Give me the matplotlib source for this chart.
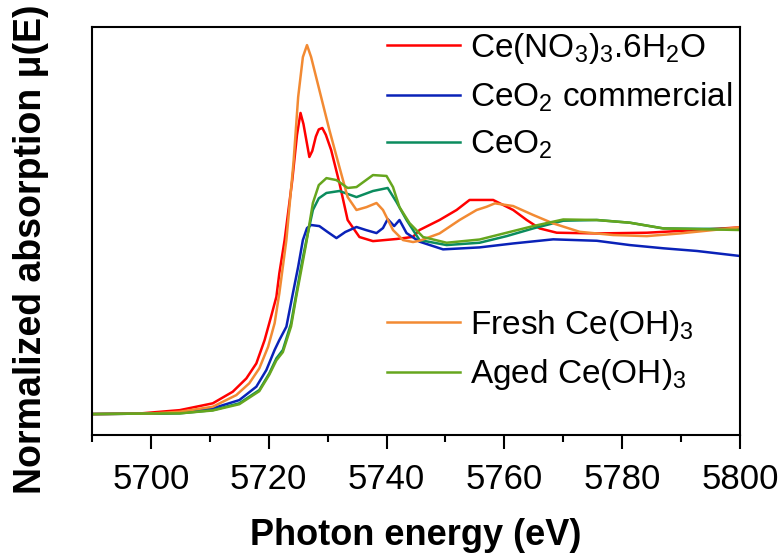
import matplotlib
matplotlib.use("Agg")
import matplotlib.pyplot as plt

plt.rcParams['font.family'] = ['Liberation Sans', 'DejaVu Sans']
plt.rcParams['mathtext.fontset'] = 'custom'
plt.rcParams['mathtext.rm'] = 'Liberation Sans'
plt.rcParams['mathtext.it'] = 'Liberation Sans:italic'
plt.rcParams['mathtext.bf'] = 'Liberation Sans:bold'

# Ce L3-edge XANES, normalized absorption
e_nitrate = [5690, 5698, 5704.9, 5710.5, 5713.9, 5716.2, 5717.9, 5719.3, 5720.4, 5721.3,
             5721.8, 5722.7, 5724.0, 5724.8, 5725.4, 5725.9, 5726.9, 5727.4, 5728.0, 5728.5,
             5729.1, 5729.7, 5730.6, 5732.0, 5733.4, 5735.4, 5737.7, 5741.7, 5743.4, 5744.5,
             5745.6, 5749.0, 5751.9, 5754.1, 5758.1, 5761.5, 5763.8, 5766.0, 5768.9, 5775.7,
             5784.2, 5792.7, 5800]
mu_nitrate = [0.000, 0.003, 0.022, 0.060, 0.125, 0.199, 0.283, 0.413, 0.544, 0.655,
              0.786, 0.972, 1.307, 1.559, 1.682, 1.620, 1.436, 1.470, 1.550, 1.590,
              1.598, 1.560, 1.475, 1.291, 1.084, 0.989, 0.966, 0.978, 0.985, 0.990,
              1.028, 1.084, 1.140, 1.196, 1.196, 1.140, 1.084, 1.037, 1.013, 1.009,
              1.013, 1.028, 1.043]

e_ceo2_com = [5690, 5700, 5704.9, 5710.5, 5715.0, 5717.9, 5719.6, 5721.0, 5721.8, 5723.0,
              5724.1, 5725.0, 5725.8, 5726.5, 5727.2, 5728.6, 5730, 5731.5, 5733, 5734.9,
              5736.5, 5738.3, 5739.4, 5740.2, 5741.3, 5742.2, 5743.4, 5745.6, 5749.6, 5755.8,
              5761.5, 5768.3, 5775.7, 5781.3, 5787.0, 5792.7, 5800]
mu_ceo2_com = [0, 0.003, 0.007, 0.032, 0.078, 0.153, 0.246, 0.358, 0.413, 0.488,
               0.674, 0.823, 0.972, 1.039, 1.056, 1.050, 1.017, 0.983, 1.017, 1.045,
               1.028, 1.011, 1.039, 1.089, 1.050, 1.084, 1.011, 0.963, 0.920, 0.931,
               0.953, 0.976, 0.968, 0.944, 0.926, 0.911, 0.883]

e_ceo2 = [5690, 5700, 5704.9, 5710.5, 5715.0, 5718.4, 5720.1, 5721.3, 5722.4, 5723.8,
          5724.7, 5725.5, 5726.4, 5727.5, 5728.5, 5729.8, 5732, 5734.9, 5737.7, 5740.2,
          5741.7, 5743.4, 5745.6, 5750.2, 5755.8, 5760.4, 5764.9, 5770.0, 5775.7, 5781.3,
          5787, 5792.7, 5800]
mu_ceo2 = [0, 0.003, 0.004, 0.022, 0.060, 0.134, 0.227, 0.311, 0.358, 0.507,
           0.674, 0.823, 0.972, 1.140, 1.205, 1.235, 1.246, 1.212, 1.246, 1.263,
           1.184, 1.084, 0.972, 0.944, 0.957, 0.994, 1.037, 1.080, 1.084, 1.069,
           1.037, 1.035, 1.034]

e_fresh = [5690, 5700, 5704.9, 5710.5, 5714.5, 5716.7, 5718.4, 5719.9, 5721.0, 5721.8,
           5722.4, 5723.0, 5724.2, 5725.0, 5725.8, 5726.5, 5727.2, 5728.6, 5730.3, 5732.0,
           5733.4, 5734.9, 5736.6, 5738.3, 5739.4, 5741.1, 5742.8, 5744.5, 5745.6, 5749.0,
           5752.4, 5755.3, 5757.0, 5758.4, 5761.5, 5764.9, 5768.3, 5772.8, 5778.5, 5784.2,
           5789.8, 5800]
mu_fresh = [0, 0.003, 0.013, 0.041, 0.106, 0.172, 0.255, 0.376, 0.507, 0.674,
            0.823, 0.972, 1.402, 1.771, 1.994, 2.061, 1.994, 1.810, 1.587, 1.380,
            1.212, 1.140, 1.156, 1.179, 1.140, 1.028, 0.972, 0.961, 0.968, 1.009,
            1.084, 1.140, 1.158, 1.177, 1.162, 1.112, 1.065, 1.018, 1.000, 0.994,
            1.009, 1.043]

e_aged = [5690, 5700, 5704.9, 5710.5, 5715.0, 5718.4, 5720.1, 5721.3, 5722.4, 5723.8,
          5724.7, 5725.5, 5726.4, 5727.5, 5728.5, 5729.8, 5731.5, 5733.4, 5734.9, 5737.7,
          5740, 5741.1, 5742.2, 5743.9, 5746.2, 5750.2, 5755.8, 5760.4, 5764.9, 5770.0,
          5775.7, 5781.3, 5787, 5792.7, 5800]
mu_aged = [0, 0.003, 0.004, 0.020, 0.055, 0.128, 0.220, 0.300, 0.346, 0.490,
           0.660, 0.800, 0.960, 1.179, 1.279, 1.318, 1.307, 1.263, 1.268, 1.335,
           1.330, 1.268, 1.156, 1.067, 0.989, 0.957, 0.975, 1.013, 1.050, 1.087,
           1.084, 1.069, 1.037, 1.033, 1.028]

labels_top = ['Ce(NO$_3$)$_3$.6H$_2$O', 'CeO$_2$ commercial', 'CeO$_2$']
labels_bottom = ['Fresh Ce(OH)$_3$', 'Aged Ce(OH)$_3$']

fig = plt.figure(figsize=(7.83, 5.57), dpi=100)
ax = fig.add_axes([0.1175, 0.219, 0.8275, 0.7325])

lw = 1.8
l_nit, = ax.plot(e_nitrate, mu_nitrate, color='#ff0000', lw=lw)
l_com, = ax.plot(e_ceo2_com, mu_ceo2_com, color='#0a22b8', lw=lw)
l_ceo, = ax.plot(e_ceo2, mu_ceo2, color='#0b8c5e', lw=lw)
l_fre, = ax.plot(e_fresh, mu_fresh, color='#f28a33', lw=lw)
l_age, = ax.plot(e_aged, mu_aged, color='#66a61e', lw=lw)

ax.set_xlim(5690, 5800)
ax.set_ylim(-0.117, 2.162)
ax.set_xticks(range(5700, 5801, 20))
ax.set_xticks(range(5690, 5800, 20), minor=True)
ax.set_yticks([])
ax.tick_params(axis='x', which='major', length=10, width=1.5, labelsize=25, pad=10)
ax.tick_params(axis='x', which='minor', length=5, width=1.5)
for sp in ax.spines.values():
    sp.set_linewidth(1.5)

ax.set_xlabel('Photon energy (eV)', fontsize=26, fontweight='bold', labelpad=16)
ax.set_ylabel('Normalized absorption μ(E)', fontsize=27, fontweight='bold')
ax.yaxis.set_label_coords(-0.066, 0.455)

leg_kw = dict(loc='upper left', frameon=False, fontsize=24, handlelength=2.2,
              handletextpad=0.3, labelspacing=0.44, borderpad=0, borderaxespad=0)
leg1 = ax.legend([l_nit, l_com, l_ceo], labels_top, bbox_to_anchor=(0.455, 0.990), **leg_kw)
ax.add_artist(leg1)
ax.legend([l_fre, l_age], labels_bottom, bbox_to_anchor=(0.455, 0.312), **leg_kw)

fig.savefig('out.png', dpi=100)
